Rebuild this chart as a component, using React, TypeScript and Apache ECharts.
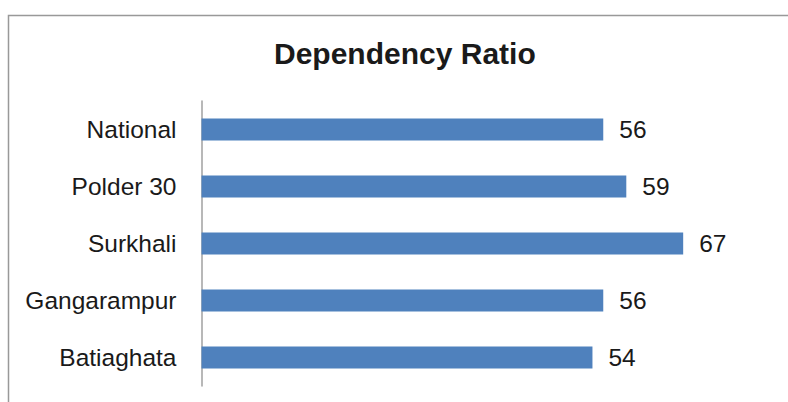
import React, { useEffect, useRef } from "react";
import * as echarts from "echarts";

const categories = ["National", "Polder 30", "Surkhali", "Gangarampur", "Batiaghata"];
const values = [55.8, 59.0, 66.9, 55.8, 54.3];
const titleText = "Dependency Ratio";

export default function App() {
  const ref = useRef<HTMLDivElement>(null);
  useEffect(() => {
    if (!ref.current) return;
    const chart = echarts.init(ref.current, null, { renderer: "svg" });
    chart.setOption({
      animation: false,
      backgroundColor: "#ffffff",
      title: {
        text: titleText,
        left: 269,
        top: 33,
        textStyle: {
          fontFamily: "Liberation Sans, Arial, sans-serif",
          fontSize: 30,
          fontWeight: "bold",
          color: "#1a1a1a",
        },
      },
      graphic: [
        {
          type: "rect",
          shape: { x: 8.5, y: 15.5, width: 820, height: 420 },
          style: { fill: "none", stroke: "#999999", lineWidth: 1.5 },
          silent: true,
        },
      ],
      grid: { left: 201.5, right: 10.5, top: 101, bottom: 16, containLabel: false },
      xAxis: {
        type: "value",
        min: 0,
        max: 80,
        show: false,
      },
      yAxis: {
        type: "category",
        data: categories,
        inverse: true,
        axisLine: { show: true, lineStyle: { color: "#a0a0a0", width: 1.5 } },
        axisTick: { show: false },
        axisLabel: {
          margin: 25,
          fontFamily: "Liberation Sans, Arial, sans-serif",
          fontSize: 24.5,
          color: "#1a1a1a",
        },
      },
      series: [
        {
          type: "bar",
          data: values,
          barWidth: 22,
          itemStyle: { color: "#4F81BD" },
          label: {
            show: true,
            position: "right",
            distance: 16,
            formatter: (p: any) => String(Math.round(p.value)),
            fontFamily: "Liberation Sans, Arial, sans-serif",
            fontSize: 24.5,
            color: "#1a1a1a",
          },
        },
      ],
    });
    return () => chart.dispose();
  }, []);
  return (
    <div
      ref={ref}
      style={{ position: "fixed", left: 0, top: 0, width: 788, height: 402 }}
    />
  );
}
